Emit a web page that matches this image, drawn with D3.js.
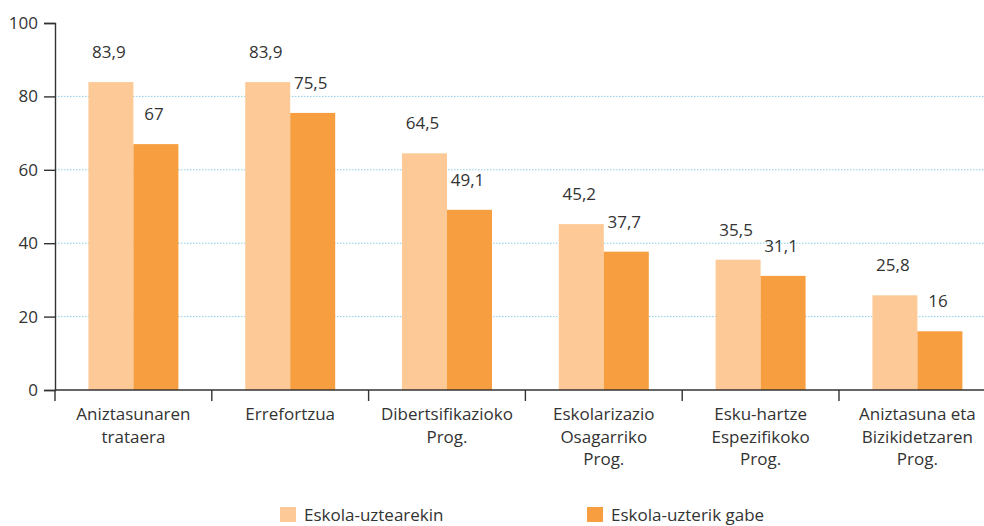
<!DOCTYPE html>
<html>
<head>
<meta charset="utf-8">
<script src="https://cdn.jsdelivr.net/npm/d3@7"></script>
<style>
  html, body { margin: 0; padding: 0; background: #fff; }
  svg { display: block; font-family: "Open Sans", "Noto Sans", sans-serif; }
</style>
</head>
<body>
<svg id="chart" width="984" height="526"></svg>
<script>
// Categories (multi-line labels split on "\n")
const categories = [
  "Aniztasunaren\ntrataera",
  "Errefortzua",
  "Dibertsifikazioko\nProg.",
  "Eskolarizazio\nOsagarriko\nProg.",
  "Esku-hartze\nEspezifikoko\nProg.",
  "Aniztasuna eta\nBizikidetzaren\nProg."
];
const seriesNames = ["Eskola-uztearekin", "Eskola-uzterik gabe"];
const withLeaving = [83.9, 83.9, 64.5, 45.2, 35.5, 25.8];
const withoutLeaving = [67, 75.5, 49.1, 37.7, 31.1, 16];
const yTicks = [0, 20, 40, 60, 80, 100];
const colors = ["#FDCA97", "#F79E40"];

const svg = d3.select("#chart");
const margin = { left: 55, top: 23, bottom: 390 };
const bandW = 156.8;
const fs = 17;

const x = d3.scaleBand()
  .domain(categories)
  .range([margin.left, margin.left + bandW * categories.length])
  .paddingInner(0).paddingOuter(0);
const y = d3.scaleLinear().domain([0, 100]).range([margin.bottom, margin.top]);

// dotted gridlines
svg.append("g").selectAll("line")
  .data(yTicks.filter(d => d > 0 && d < 100))
  .join("line")
  .attr("x1", margin.left).attr("x2", 984)
  .attr("y1", d => y(d)).attr("y2", d => y(d))
  .attr("stroke", "#8CCFEA").attr("stroke-width", 1)
  .attr("stroke-dasharray", "1.5,1.5");

// bars
const barW = 45;
const groupW = barW * 2;
const data = categories.map((c, i) => ({ c, vals: [withLeaving[i], withoutLeaving[i]] }));

const groups = svg.append("g").selectAll("g")
  .data(data).join("g")
  .attr("transform", d => `translate(${x(d.c) + (x.bandwidth() - groupW) / 2},0)`);

groups.selectAll("rect")
  .data(d => d.vals)
  .join("rect")
  .attr("x", (v, j) => j * barW)
  .attr("y", v => y(v))
  .attr("width", barW)
  .attr("height", v => y(0) - y(v))
  .attr("fill", (v, j) => colors[j]);

groups.selectAll("text.val")
  .data(d => d.vals)
  .join("text")
  .attr("class", "val")
  .attr("x", (v, j) => j * barW + barW / 2 - 2)
  .attr("y", v => y(v) - 24)
  .attr("text-anchor", "middle")
  .attr("font-size", fs)
  .attr("fill", "#333")
  .text(v => String(v).replace(".", ","));

// y axis
const yAxis = d3.axisLeft(y).tickValues(yTicks).tickSize(11).tickPadding(6);
const gy = svg.append("g").attr("transform", `translate(${margin.left},0)`).call(yAxis);
gy.select(".domain").attr("stroke", "#333").attr("stroke-width", 1.4);
gy.selectAll(".tick line").attr("stroke", "#333").attr("stroke-width", 1.4);
gy.selectAll(".tick text").attr("font-size", fs).attr("fill", "#333")
  .attr("font-family", "'Open Sans', sans-serif");

// x axis: baseline with ticks at category boundaries
const gx = svg.append("g");
gx.append("line")
  .attr("x1", margin.left).attr("x2", 984)
  .attr("y1", y(0)).attr("y2", y(0))
  .attr("stroke", "#333").attr("stroke-width", 1.4);
gx.selectAll("line.b")
  .data(categories)
  .join("line")
  .attr("class", "b")
  .attr("x1", d => x(d)).attr("x2", d => x(d))
  .attr("y1", y(0)).attr("y2", y(0) + 11)
  .attr("stroke", "#333").attr("stroke-width", 1.4);

gx.selectAll("text")
  .data(categories)
  .join("text")
  .attr("text-anchor", "middle")
  .attr("font-size", fs)
  .attr("fill", "#333")
  .each(function (d) {
    const t = d3.select(this);
    d.split("\n").forEach((line, i) => {
      t.append("tspan")
        .attr("x", x(d) + x.bandwidth() / 2)
        .attr("y", 420 + i * 22.5)
        .text(line);
    });
  });

// legend
const legendX = [280, 587];
const legend = svg.append("g").selectAll("g")
  .data(seriesNames).join("g")
  .attr("transform", (d, i) => `translate(${legendX[i]},507)`);
legend.append("rect").attr("width", 16).attr("height", 15)
  .attr("fill", (d, i) => colors[i]);
legend.append("text")
  .attr("x", 24).attr("y", 14)
  .attr("font-size", fs).attr("fill", "#333")
  .text(d => d);
</script>
</body>
</html>
